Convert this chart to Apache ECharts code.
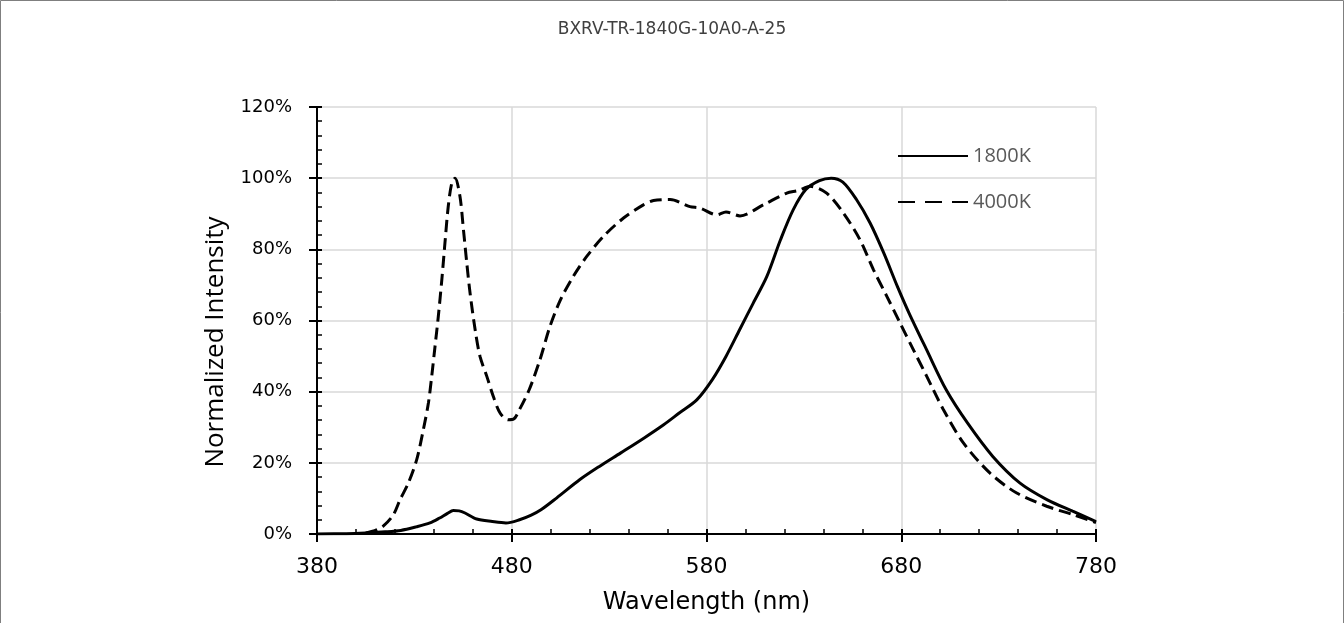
<!DOCTYPE html>
<html><head><meta charset="utf-8">
<script src="https://cdn.jsdelivr.net/npm/echarts@6/dist/echarts.min.js"></script>
<style>html,body{margin:0;padding:0;background:#fff}#c{width:1344px;height:623px}</style>
</head><body><div id="c"></div>
<script>
const titleText = 'BXRV-TR-1840G-10A0-A-25';
const xName = 'Wavelength (nm)';
const yName = 'Normalized Intensity';
const seriesNames = ['1800K', '4000K'];
const xTicks = [380, 480, 580, 680, 780];
const yTicks = [0, 20, 40, 60, 80, 100, 120];

const nm1800 = [380,395,405,415,423,431,438,443,447,450,453,456,462,470,477,484,490,495,503,515,525,536,548,558,566,575,583,590,597,604,611,618,624.5,631,638,644,650,657,664,671,678,684,693,703,714,727,741,755,768,780];
const int1800 = [0,0.1,0.3,0.6,1.0,2.0,3.1,4.5,5.8,6.6,6.5,5.9,4.2,3.5,3.1,4.0,5.3,6.8,10.1,15.3,19.0,22.8,27.0,30.7,34.0,37.7,43.4,49.9,57.4,64.9,72.4,82.7,91.1,96.8,99.3,100,98.9,94,87.4,79.0,69.6,62.1,51.8,40.6,31.2,21.8,14.3,9.6,6.4,3.5];

const nm4000 = [405,410,414,419.2,422.6,426.9,431.2,434.6,437.2,438.9,440.6,442.3,444.1,445.7,447.4,449.2,450.9,453.4,455.2,456.9,458.6,461.2,463.7,467.2,470.5,474,478.2,481,484,489,494.5,499.6,505,511.6,518.5,527,537.4,547.6,552.8,561.3,571.5,576.7,585.3,590,597.2,609.2,621.2,627,633.2,641.7,650.3,658.8,665.7,672.6,679.4,686.2,693.1,701.6,711.9,725.6,739.3,754.7,768.4,780];
const int4000 = [0.3,1.0,2.2,5.4,9.6,14.3,20.9,29.3,36.8,44.3,52.7,61.2,71.5,81.8,92.1,98.6,100,94.9,85.5,76.2,67.7,57.4,49.9,44.3,38.7,34.0,32.1,32.3,35,40.6,49,58.3,65.8,72.4,78,83.6,88.8,92.5,93.7,94,92,91.6,89.7,90.5,89.4,92.5,95.8,96.5,97.7,95.8,90.2,82.7,74.3,66.8,59.3,51.8,44.3,35,25.6,17.1,11.5,7.8,5.4,3.2];

const pairs = (xs, ys) => xs.map((x, i) => [x, ys[i]]);
const FONT = 'DejaVu Sans';

const chart = echarts.init(document.getElementById('c'), null, {renderer: 'canvas'});
const grid = {left: 317, right: 248, top: 107, bottom: 89};
const xMin = xTicks[0], xMax = xTicks[xTicks.length - 1];
const yMin = yTicks[0], yMax = yTicks[yTicks.length - 1];

chart.setOption({
  animation: false,
  backgroundColor: '#fff',
  graphic: [{
    type: 'rect', shape: {x: 0.5, y: 0.5, width: 1343, height: 700},
    style: {fill: 'none', stroke: '#7f7f7f', lineWidth: 1}, silent: true, z: -10
  }, {
    type: 'text', x: 216, y: 342, rotation: Math.PI / 2, silent: true,
    style: {text: yName, font: '26px "Open Sans"', fill: '#000', align: 'center', verticalAlign: 'middle'}
  }],
  title: {
    text: titleText, left: 'center', top: 16,
    textStyle: {fontFamily: FONT, fontSize: 17, fontWeight: 'normal', color: '#404040'}
  },
  legend: {
    orient: 'vertical', left: 897, top: 146, padding: 0, itemWidth: 70, itemHeight: 20, itemGap: 26,
    itemStyle: {opacity: 0},
    textStyle: {fontFamily: 'Open Sans', fontSize: 20, lineHeight: 20, color: '#595959'},
    data: [
      {name: seriesNames[0]},
      {name: seriesNames[1], lineStyle: {type: [17, 10]}}
    ]
  },
  grid: [grid, grid],
  xAxis: [{
    type: 'value', gridIndex: 0, min: xMin, max: xMax, interval: 100,
    name: xName, nameLocation: 'middle', nameGap: 57,
    nameTextStyle: {fontFamily: FONT, fontSize: 24, color: '#000'},
    axisLine: {lineStyle: {color: '#000', width: 2}},
    axisTick: {show: true, inside: false, length: 8, lineStyle: {color: '#000', width: 2}},
    axisLabel: {fontFamily: FONT, fontSize: 22, color: '#000', margin: 22, formatter: v => xTicks.includes(v) ? String(v) : ''},
    splitLine: {show: true, lineStyle: {color: '#d9d9d9', width: 1.5}}
  }, {
    type: 'value', gridIndex: 1, min: xMin, max: xMax, interval: 100,
    axisLine: {show: false},
    axisTick: {show: true, inside: true, length: 5, lineStyle: {color: '#000', width: 2}},
    minorTick: {show: true, splitNumber: 5, length: 5, lineStyle: {color: '#000', width: 1.5}},
    axisLabel: {show: false}, splitLine: {show: false}
  }],
  yAxis: [{
    type: 'value', gridIndex: 0, min: yMin, max: yMax, interval: 20,
    axisLine: {show: true, lineStyle: {color: '#000', width: 2}},
    axisTick: {show: true, inside: false, length: 8, lineStyle: {color: '#000', width: 2}},
    axisLabel: {fontFamily: FONT, fontSize: 18, color: '#000', margin: 25, formatter: v => v + '%'},
    splitLine: {show: true, lineStyle: {color: '#d9d9d9', width: 1.5}}
  }, {
    type: 'value', gridIndex: 1, min: yMin, max: yMax, interval: 20,
    axisLine: {show: false},
    axisTick: {show: true, inside: true, length: 5, lineStyle: {color: '#000', width: 2}},
    minorTick: {show: true, splitNumber: 5, length: 5, lineStyle: {color: '#000', width: 1.5}},
    axisLabel: {show: false}, splitLine: {show: false}
  }],
  series: [{
    name: seriesNames[0], type: 'line', xAxisIndex: 0, yAxisIndex: 0,
    data: pairs(nm1800, int1800), showSymbol: false, symbol: 'none', smooth: 0.3,
    lineStyle: {color: '#000', width: 3, type: 'solid'}, itemStyle: {color: '#000'}, z: 3
  }, {
    name: seriesNames[1], type: 'line', xAxisIndex: 0, yAxisIndex: 0,
    data: pairs(nm4000, int4000), showSymbol: false, symbol: 'none', smooth: 0.3,
    lineStyle: {color: '#000', width: 3, type: [12, 6]}, itemStyle: {color: '#000'}, z: 3
  }]
});
</script></body></html>
